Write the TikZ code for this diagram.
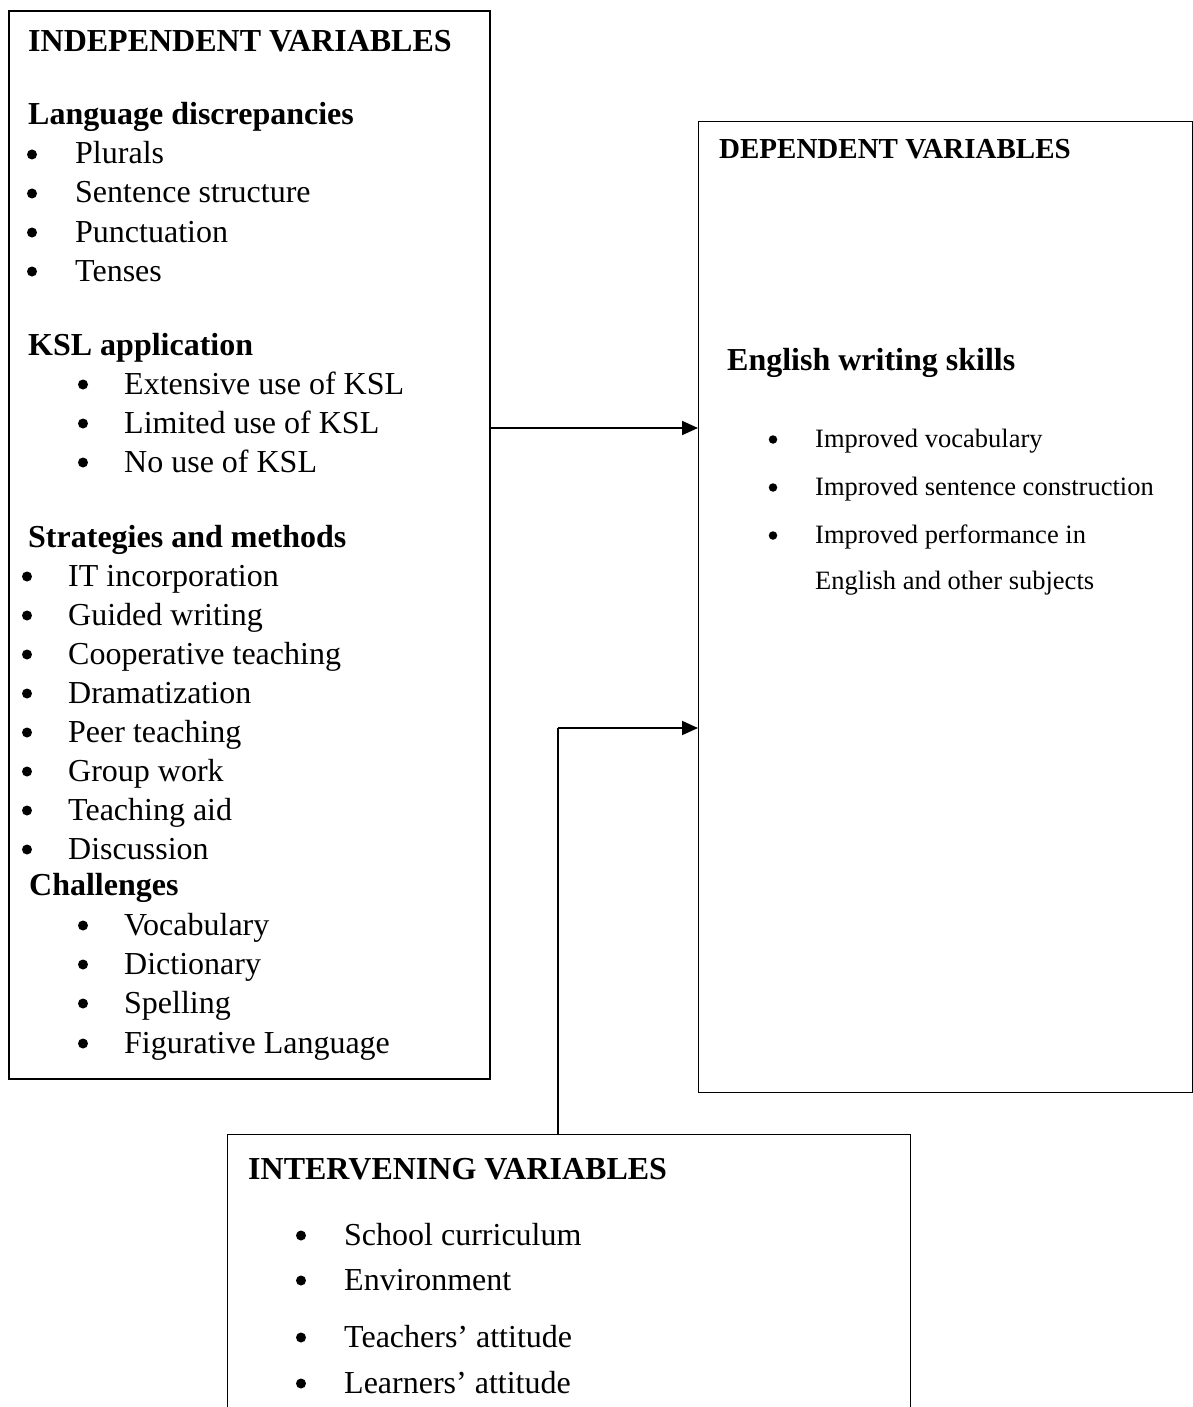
\documentclass[tikz,border=0pt]{standalone}
\usepackage{fontspec}
\setmainfont{Liberation Serif}
\usetikzlibrary{arrows.meta}
\tikzset{
  box/.style={draw, line width=1.6pt, inner sep=0pt, anchor=north west},
  txt/.style={anchor=base west, inner sep=0pt, font=\fontsize{32}{38}\selectfont},
  hd/.style={anchor=base west, inner sep=0pt, font=\bfseries\fontsize{32}{38}\selectfont},
  hds/.style={anchor=base west, inner sep=0pt, font=\bfseries\fontsize{29}{34}\selectfont},
  stxt/.style={anchor=base west, inner sep=0pt, font=\fontsize{26.5}{32}\selectfont},
  blt/.style={circle, fill, inner sep=0pt, minimum size=10pt, yshift=9.5pt},
  sblt/.style={circle, fill, inner sep=0pt, minimum size=8.5pt, yshift=7.5pt},
  arr/.style={line width=1.9pt, -{Triangle[length=16pt,width=14pt]}},
}
\begin{document}
\begin{tikzpicture}[x=1pt,y=-1pt]
\useasboundingbox (0,0) rectangle (1193,1407);
% boxes
\node[box, line width=1.8pt, minimum width=481pt, minimum height=1068pt] (ibox) at (8,10) {};
\node[box, line width=1.3pt, minimum width=494pt, minimum height=971pt] (dbox) at (698,121) {};
\begin{scope}
\clip (0,0) rectangle (1193,1407);
\node[box, line width=1.4pt, minimum width=683pt, minimum height=320pt] (vbox) at (227,1134) {};
\end{scope}

% independent variables
\begin{scope}[shift={(0,2)}]
\node[hd] (t1) at (28,50) {INDEPENDENT VARIABLES};
\node[hd] (h1) at (28,123) {Language discrepancies};
\node[blt] (b11) at (32,162) {}; \node[txt] (i11) at (75,162) {Plurals};
\node[blt] (b12) at (32,201) {}; \node[txt] (i12) at (75,201) {Sentence structure};
\node[blt] (b13) at (32,240) {}; \node[txt] (i13) at (75,240) {Punctuation};
\node[blt] (b14) at (32,279) {}; \node[txt] (i14) at (75,279) {Tenses};

\node[hd] (h2) at (28,353) {KSL application};
\node[blt] (b21) at (83,392) {}; \node[txt] (i21) at (124,392) {Extensive use of KSL};
\node[blt] (b22) at (83,431) {}; \node[txt] (i22) at (124,431) {Limited use of KSL};
\node[blt] (b23) at (83,470) {}; \node[txt] (i23) at (124,470) {No use of KSL};

\node[hd] (h3) at (28,545) {Strategies and methods};
\node[blt] (b31) at (27,584) {}; \node[txt] (i31) at (68,584) {IT incorporation};
\node[blt] (b32) at (27,623) {}; \node[txt] (i32) at (68,623) {Guided writing};
\node[blt] (b33) at (27,662) {}; \node[txt] (i33) at (68,662) {Cooperative teaching};
\node[blt] (b34) at (27,701) {}; \node[txt] (i34) at (68,701) {Dramatization};
\node[blt] (b35) at (27,740) {}; \node[txt] (i35) at (68,740) {Peer teaching};
\node[blt] (b36) at (27,779) {}; \node[txt] (i36) at (68,779) {Group work};
\node[blt] (b37) at (27,818) {}; \node[txt] (i37) at (68,818) {Teaching aid};
\node[blt] (b38) at (27,857) {}; \node[txt] (i38) at (68,857) {Discussion};

\node[hd] (h4) at (29,893) {Challenges};
\node[blt] (b41) at (83,933) {}; \node[txt] (i41) at (124,933) {Vocabulary};
\node[blt] (b42) at (83,972) {}; \node[txt] (i42) at (124,972) {Dictionary};
\node[blt] (b43) at (83,1011) {}; \node[txt] (i43) at (124,1011) {Spelling};
\node[blt] (b44) at (83,1051) {}; \node[txt] (i44) at (124,1051) {Figurative Language};
\end{scope}

% dependent variables
\node[hds] (t2) at (719,159) {DEPENDENT VARIABLES};
\node[hd] (h5) at (727,370) {English writing skills};
\node[sblt] (b51) at (773,447) {}; \node[stxt] (i51) at (815,447) {Improved vocabulary};
\node[sblt] (b52) at (773,495) {}; \node[stxt] (i52) at (815,495) {Improved sentence construction};
\node[sblt] (b53) at (773,543) {}; \node[stxt] (i53) at (815,543) {Improved performance in};
\node[stxt] (i54) at (815,589) {English and other subjects};

% intervening variables
\node[hd] (t3) at (248,1179) {INTERVENING VARIABLES};
\node[blt] (b61) at (301,1245) {}; \node[txt] (i61) at (344,1245) {School curriculum};
\node[blt] (b62) at (301,1290) {}; \node[txt] (i62) at (344,1290) {Environment};
\node[blt] (b63) at (301,1347) {}; \node[txt] (i63) at (344,1347) {Teachers’ attitude};
\node[blt] (b64) at (301,1393) {}; \node[txt] (i64) at (344,1393) {Learners’ attitude};

% connectors
\coordinate (a1) at (0,428);
\coordinate (j) at (558,728);
\draw[arr] (ibox.east |- a1) -- (dbox.west |- a1);
\draw[line width=1.4pt] (vbox.north -| j) -- (j);
\draw[arr] (j) -- (dbox.west |- j);
\end{tikzpicture}
\end{document}
